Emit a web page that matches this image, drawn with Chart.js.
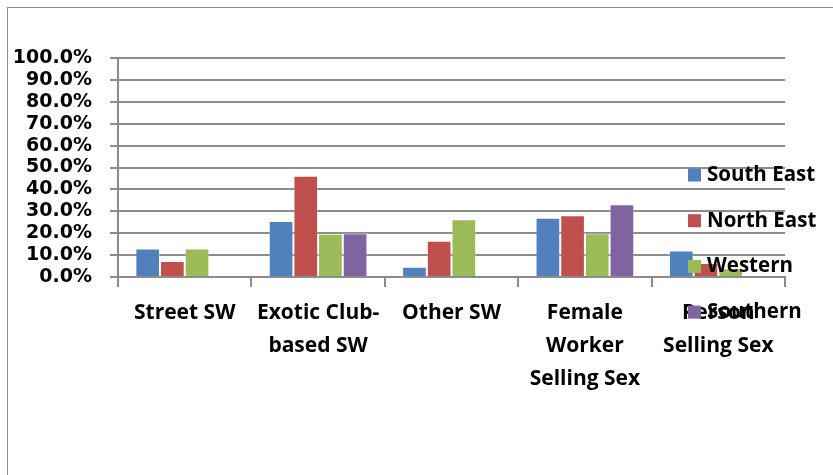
<!DOCTYPE html>
<html>
<head>
<meta charset="utf-8">
<script src="https://cdn.jsdelivr.net/npm/chart.js@4"></script>
<style>
  html, body { margin: 0; padding: 0; background: #fff; }
  #wrap { position: relative; width: 833px; height: 475px; overflow: hidden; }
  #frame { position: absolute; left: 7px; top: 7px; width: 840px; height: 480px; border: 1px solid #8a8a8a; }
  canvas { position: absolute; left: 0; top: 0; }
</style>
</head>
<body>
<div id="wrap">
  <div id="frame"></div>
  <canvas id="c" width="833" height="475"></canvas>
</div>
<script>
const categories = [
  ['Street SW'],
  ['Exotic Club-', 'based SW'],
  ['Other SW'],
  ['Female', 'Worker', 'Selling Sex'],
  ['Person', 'Selling Sex']
];
const regions = ['South East', 'North East', 'Western', 'Southern'];
const southEast = [0.130, 0.256, 0.047, 0.270, 0.121];
const northEast = [0.073, 0.462, 0.165, 0.282, 0.064];
const western   = [0.130, 0.197, 0.264, 0.200, 0.040];
const southern  = [0,     0.200, 0,     0.332, 0];
const colors = ['#4F81BD', '#C0504D', '#9BBB59', '#8064A2'];

const series = [southEast, northEast, western, southern];
const labelFont = 'Open Sans';
const axisGray = '#8c8c8c';

// legend sits over the plot on the right, like the original
const overlayLegend = {
  id: 'overlayLegend',
  afterDraw(chart) {
    const ctx = chart.ctx;
    ctx.save();
    ctx.font = 'bold 20.5px ' + labelFont;
    ctx.textBaseline = 'middle';
    chart.data.datasets.forEach((ds, i) => {
      const y = 175 + i * 45.7;
      ctx.fillStyle = ds.backgroundColor;
      ctx.fillRect(688, y - 6.5, 13, 13);
      ctx.fillStyle = '#000';
      ctx.fillText(ds.label, 707, y);
    });
    ctx.restore();
  }
};

new Chart(document.getElementById('c'), {
  type: 'bar',
  data: {
    labels: categories,
    datasets: series.map((vals, i) => ({
      label: regions[i],
      data: vals,
      backgroundColor: colors[i],
      borderColor: 'rgba(255,255,255,0.35)',
      borderWidth: 1,
      categoryPercentage: 0.74,
      barPercentage: 1
    }))
  },
  options: {
    responsive: false,
    devicePixelRatio: 1,
    animation: false,
    layout: { padding: { left: 0, right: 48, top: 58, bottom: 0 } },
    plugins: { legend: { display: false }, tooltip: { enabled: false } },
    scales: {
      x: {
        offset: true,
        grid: { offset: true, drawOnChartArea: false, drawTicks: true, tickLength: 10, color: axisGray, lineWidth: 2 },
        border: { color: axisGray, width: 2 },
        ticks: { color: '#000', padding: 10, maxRotation: 0, autoSkip: false, font: { family: labelFont, weight: 'bold', size: 21, lineHeight: 1.56 } },
        afterFit: s => { s.height = 198; }
      },
      y: {
        min: 0, max: 1,
        ticks: {
          stepSize: 0.1, autoSkip: false, color: '#000', padding: 18,
          font: { family: 'DejaVu Sans', weight: 'bold', size: 19, lineHeight: 1 },
          callback: v => (v * 100).toFixed(1) + '%'
        },
        grid: { color: axisGray, lineWidth: 2, tickLength: 8 },
        border: { color: axisGray, width: 2 },
        afterFit: s => { s.width = 118; }
      }
    }
  },
  plugins: [overlayLegend]
});
</script>
</body>
</html>
